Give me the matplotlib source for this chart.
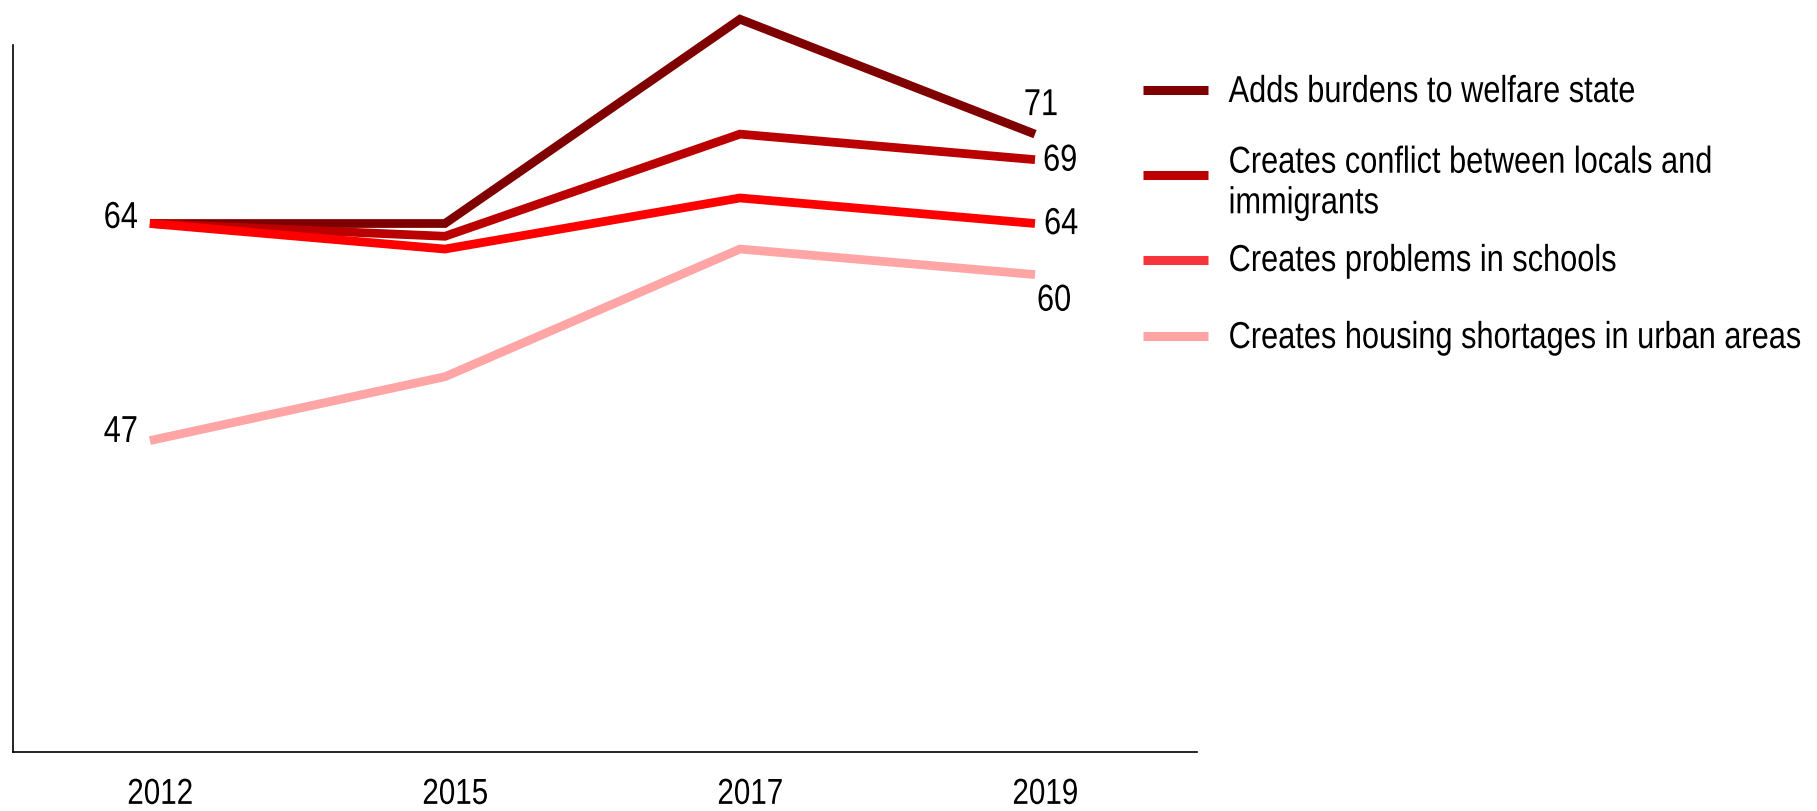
import matplotlib
matplotlib.use("Agg")
import matplotlib.pyplot as plt
from matplotlib import patheffects
from matplotlib.legend_handler import HandlerLine2D
from matplotlib.lines import Line2D
from matplotlib.transforms import Affine2D

plt.rcParams["font.family"] = ["Liberation Sans Narrow", "Liberation Sans", "DejaVu Sans"]

YEARS = ["2012", "2015", "2017", "2019"]
SERIES = [
    "Adds burdens to welfare state",
    "Creates conflict between locals and\nimmigrants",
    "Creates problems in schools",
    "Creates housing shortages in urban areas",
]
WELFARE = [64, 64, 80, 71]
CONFLICT = [64, 63, 71, 69]
SCHOOLS = [64, 62, 66, 64]
HOUSING = [47, 52, 62, 60]

LINE_COLORS = ["#7f0000", "#ba0000", "#ff0000", "#ffa5a5"]
KEY_COLORS = ["#7f0000", "#bc0000", "#f7333b", "#ffa3a3"]

# (series index, point index, dx pt, dy pt, ha) for the value labels
LABELS = [
    (0, 0, -8.6, -3.2, "right"),
    (3, 0, -8.6, -1.0, "right"),
    (0, 3, 4.3, 13.7, "center"),
    (1, 3, 5.8, -7.9, "left"),
    (2, 3, 6.5, -7.6, "left"),
    (3, 3, 1.4, -26.0, "left"),
]

# vertical centre of each legend entry (px from the top) and how far its
# key line sits above the default spot (pt)
KEY_Y = [95, 186, 264, 341]
KEY_LIFT = [1.0, 7.5, 0.3, 0.6]

W, H = 1817, 812
# narrow-face look: set the text at 82% size, then stretch glyphs back up
NARROW = 0.82


class Tall(patheffects.AbstractPathEffect):
    """Stretch glyph outlines vertically about the baseline."""

    def __init__(self, sy=1 / NARROW):
        super().__init__()
        self._sy = sy

    def draw_path(self, renderer, gc, tpath, affine, rgbFace=None):
        renderer.draw_path(gc, tpath, Affine2D().scale(1, self._sy) + affine, rgbFace)


class LiftedLine(HandlerLine2D):
    def __init__(self, lift=0.0, **kw):
        super().__init__(**kw)
        self._lift = lift

    def create_artists(self, legend, orig_handle, xdescent, ydescent,
                       width, height, fontsize, trans):
        arts = super().create_artists(legend, orig_handle, xdescent, ydescent,
                                      width, height, fontsize, trans)
        for a in arts:
            a.set_ydata([y + self._lift for y in a.get_ydata()])
        return arts


def narrow(text):
    text.set_path_effects([Tall()])


fig = plt.figure(figsize=(W / 100, H / 100), dpi=100)
ax = fig.add_axes([13 / W, 1 - 753 / H, (1197 - 13) / W, (753 - 10) / H])

x = list(range(len(YEARS)))
data = [WELFARE, CONFLICT, SCHOOLS, HOUSING]
for vals, col in zip(data, LINE_COLORS):
    ax.plot(x, vals, color=col, lw=6.3, solid_capstyle="butt",
            solid_joinstyle="miter", clip_on=False)

for si, pi, dx, dy, ha in LABELS:
    v = data[si][pi]
    t = ax.annotate(f"{v}", (x[pi], v), xytext=(dx, dy), textcoords="offset points",
                    ha=ha, va="baseline", fontsize=27 * NARROW, color="black")
    narrow(t)

ax.set_xlim(-0.464, 3.549)
ax.set_ylim(22.61, 80.8)
ax.set_xticks([i + 0.035 for i in x])
ax.set_xticklabels(YEARS, fontsize=26 * NARROW)
ax.set_yticks([])
ax.tick_params(axis="x", length=0, pad=21.5)
for t in ax.get_xticklabels():
    narrow(t)
for side in ("top", "right"):
    ax.spines[side].set_visible(False)
ax.spines["left"].set_bounds(22.61, 78.0)
for side in ("left", "bottom"):
    ax.spines[side].set_linewidth(1.2)
    ax.spines[side].set_color("black")

# one legend per entry so the uneven spacing of the key can be kept
for label, col, yc, lift in zip(SERIES, KEY_COLORS, KEY_Y, KEY_LIFT):
    h = Line2D([], [], color=col, lw=6.5, solid_capstyle="butt")
    leg = fig.legend([h], [label], loc="center left",
                     bbox_to_anchor=(1143 / W, 1 - yc / H), frameon=False,
                     fontsize=27 * NARROW, handlelength=2.114, handletextpad=0.67,
                     borderpad=0, borderaxespad=0,
                     handler_map={Line2D: LiftedLine(lift=lift)})
    for t in leg.get_texts():
        t.set_linespacing(1.46)
        narrow(t)

fig.savefig("out.png", dpi=100)
